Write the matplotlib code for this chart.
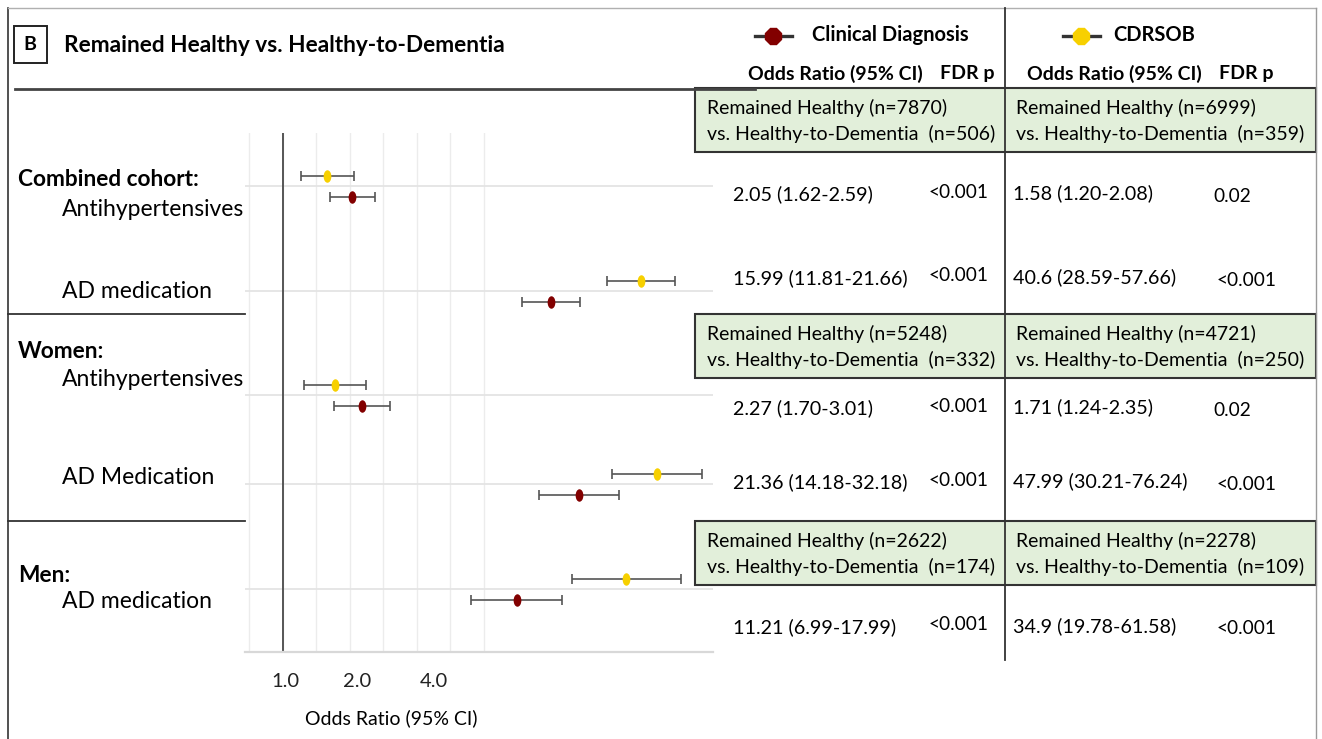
import numpy as np
import matplotlib.pyplot as plt
from matplotlib.patches import Rectangle
from matplotlib.lines import Line2D
from matplotlib.path import Path
from matplotlib.transforms import Affine2D, ScaledTranslation

plt.rcParams['font.family'] = ['Lato', 'DejaVu Sans']

W, H = 1322, 739

# odds ratios (95% CI), one entry per row of the forest plot
rows = ["Antihypertensives", "AD medication", "Antihypertensives", "AD Medication", "AD medication"]
clin_or = [2.05, 15.99, 2.27, 21.36, 11.21]
clin_lo = [1.62, 11.81, 1.70, 14.18, 6.99]
clin_hi = [2.59, 21.66, 3.01, 32.18, 17.99]
clin_p = ["<0.001", "<0.001", "<0.001", "<0.001", "<0.001"]
cdr_or = [1.58, 40.6, 1.71, 47.99, 34.9]
cdr_lo = [1.20, 28.59, 1.24, 30.21, 19.78]
cdr_hi = [2.08, 57.66, 2.35, 76.24, 61.58]
cdr_p = ["0.02", "<0.001", "0.02", "<0.001", "<0.001"]

groups = ["Combined cohort:", "Women:", "Men:"]
clin_n = [(7870, 506), (5248, 332), (2622, 174)]
cdr_n = [(6999, 359), (4721, 250), (2278, 109)]

xticks = [1.0, 2.0, 4.0]

# layout (pixel positions in the 1322x739 image)
row_y = [186, 291, 395, 484, 589]
label_y = [209, 291, 379, 477, 602]
group_y = [180, 352, 575]
box_top = [88, 314, 521]
val_y = [194, 278, 408, 482, 627]

DARKRED = '#820000'
GOLD = '#f7d000'


def fx(x):
    return x / W


def fy(y):
    return 1 - y / H


def pt_str(v):
    return f"{v:.2f}".rstrip('0')


fig = plt.figure(figsize=(W / 100, H / 100), dpi=100)

# frame
fig.add_artist(Line2D([fx(8), fx(8)], [fy(8), fy(739)], color='#333333', lw=1.2))
fig.add_artist(Line2D([fx(8), fx(1316)], [fy(8), fy(8)], color='#b0b0b0', lw=1.0))
fig.add_artist(Line2D([fx(1316), fx(1316)], [fy(8), fy(739)], color='#9a9a9a', lw=1.0))

# title
fig.add_artist(Rectangle((fx(14), fy(63)), fx(33), 37 / H, transform=fig.transFigure,
                         facecolor='white', edgecolor='#222222', lw=1.4))
fig.text(fx(30), fy(45), "B", ha='center', va='center', fontsize=14, fontweight='bold')
fig.text(fx(64), fy(45), "Remained Healthy vs. Healthy-to-Dementia", ha='left', va='center',
         fontsize=16.3, fontweight='bold')
fig.add_artist(Line2D([fx(15), fx(755)], [fy(89), fy(89)], color='#444444', lw=2))

# section separators on the left
for y in [314, 521]:
    fig.add_artist(Line2D([fx(8), fx(245)], [fy(y), fy(y)], color='#333333', lw=1.3))

# left labels
for g, y in zip(groups, group_y):
    fig.text(fx(18), fy(y), g, ha='left', va='center', fontsize=16.3, fontweight='bold')
for r, y in zip(rows, label_y):
    fig.text(fx(62), fy(y), r, ha='left', va='center', fontsize=16.5)

# legend
for x0, col, name, tx in [(773, DARKRED, "Clinical Diagnosis", 812), (1081, GOLD, "CDRSOB", 1113)]:
    fig.add_artist(Line2D([fx(x0 - 18), fx(x0 - 10)], [fy(36), fy(36)], color='#333333', lw=2.4))
    fig.add_artist(Line2D([fx(x0 + 10), fx(x0 + 19)], [fy(36), fy(36)], color='#333333', lw=2.4))
    fig.add_artist(Line2D([fx(x0)], [fy(36)], marker='8', markersize=12, color=col, lw=0))
    fig.text(fx(tx), fy(35), name, ha='left', va='center', fontsize=14.5, fontweight='bold')

# column headers
for x0 in [748, 1027]:
    fig.text(fx(x0), fy(74), "Odds Ratio (95% CI)", ha='left', va='center', fontsize=14, fontweight='bold')
    fig.text(fx(x0 + 192), fy(74), "FDR p", ha='left', va='center', fontsize=14, fontweight='bold')

# green sample-size boxes
for top, n1, n2 in zip(box_top, clin_n, cdr_n):
    fig.add_artist(Rectangle((fx(695), fy(top + 64)), fx(1316 - 695), 64 / H, transform=fig.transFigure,
                             facecolor='#e2efda', edgecolor='#333333', lw=1.5))
    for x0, n in [(707, n1), (1016, n2)]:
        fig.text(fx(x0), fy(top + 20), f"Remained Healthy (n={n[0]})", ha='left', va='center', fontsize=14)
        fig.text(fx(x0), fy(top + 46), f"vs. Healthy-to-Dementia  (n={n[1]})", ha='left', va='center', fontsize=14)

# vertical divider between the two outcome columns
fig.add_artist(Line2D([fx(1005), fx(1005)], [fy(8), fy(660)], color='#333333', lw=1.3))

# table values
for i, y in enumerate(val_y):
    fig.text(fx(733), fy(y), f"{pt_str(clin_or[i])} ({clin_lo[i]:.2f}-{clin_hi[i]:.2f})",
             ha='left', va='center', fontsize=14.2)
    fig.text(fx(929), fy(y - 2), clin_p[i], ha='left', va='center', fontsize=13.8)
    fig.text(fx(1013), fy(y - 1), f"{pt_str(cdr_or[i])} ({cdr_lo[i]:.2f}-{cdr_hi[i]:.2f})",
             ha='left', va='center', fontsize=14.2)
    px_p = 1213 if cdr_p[i] == "0.02" else 1217
    fig.text(fx(px_p), fy(y + 2), cdr_p[i], ha='left', va='center', fontsize=13.8)

# forest plot
ax = fig.add_axes([fx(245), fy(652), fx(713 - 245), (652 - 133) / H])
ax.set_xscale('log', base=2)
ax.set_xlim(0.675, 85.5)
ax.set_ylim(652, 133)

ellipse = Path(Affine2D().scale(0.62, 1.0).transform(Path.unit_circle().vertices),
               Path.unit_circle().codes)

ys = np.array(row_y)
for vals, lo, hi, off, col in [(cdr_or, cdr_lo, cdr_hi, -10.5, GOLD),
                               (clin_or, clin_lo, clin_hi, 10.5, DARKRED)]:
    vals, lo, hi = np.array(vals), np.array(lo), np.array(hi)
    ax.errorbar(vals, ys + off, xerr=[vals - lo, hi - vals], fmt='none',
                ecolor='#555555', elinewidth=1.2, capsize=3.6, capthick=1.2, zorder=3)
    ax.plot(vals, ys + off, ls='none', marker=ellipse, markersize=9,
            color=col, markeredgewidth=0, zorder=4)

ax.axvline(1.0, color='#555555', lw=1.4, zorder=2)

ax.set_yticks(row_y)
ax.set_yticklabels([])
ax.set_xticks(xticks)
ax.set_xticklabels([f"{t:.1f}" for t in xticks])
ax.set_xticks(2 ** np.arange(-0.5, 3.01, 0.5), minor=True)
ax.xaxis.set_minor_formatter(plt.NullFormatter())
ax.tick_params(axis='both', which='both', length=0)
ax.tick_params(axis='x', labelsize=14.5, pad=15, colors='#222222')
ax.grid(True, axis='x', which='both', color='#ececec', lw=1.0, zorder=0)
ax.grid(True, axis='y', color='#e4e4e4', lw=1.3, zorder=0)
for s in ['top', 'left', 'right']:
    ax.spines[s].set_visible(False)
ax.spines['bottom'].set_color('#d8d8d8')
ax.spines['bottom'].set_linewidth(1.6)

# the printed tick labels sit slightly right of the true positions
for lab, dx in zip(ax.get_xticklabels(), [2, 7, 17]):
    lab.set_transform(lab.get_transform() + ScaledTranslation(dx / 100, 0, fig.dpi_scale_trans))

fig.text(fx(391), fy(718), "Odds Ratio (95% CI)", ha='center', va='center', fontsize=14)

fig.savefig("out.png", dpi=100)
